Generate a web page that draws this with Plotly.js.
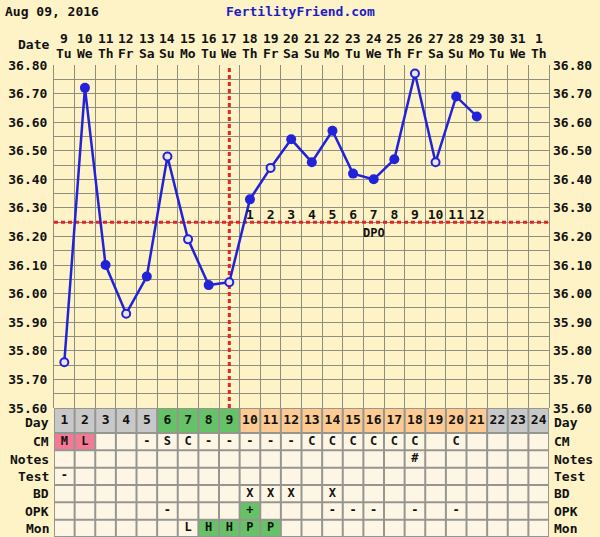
<!DOCTYPE html>
<html><head><meta charset="utf-8">
<script src="https://cdn.plot.ly/plotly-3.0.1.min.js"></script>
<style>html,body{margin:0;padding:0;background:#fdf3c6;overflow:hidden}</style>
</head><body>
<div id="chart" style="width:600px;height:537px"></div>
<script>
// ---------------- data ----------------
const cycleDays = [1,2,3,4,5,6,7,8,9,10,11,12,13,14,15,16,17,18,19,20,21,22,23,24];
const dateLabels = ['9','10','11','12','13','14','15','16','17','18','19','20','21','22','23','24','25','26','27','28','29','30','31','1'];
const weekdayLabels = ['Tu','We','Th','Fr','Sa','Su','Mo','Tu','We','Th','Fr','Sa','Su','Mo','Tu','We','Th','Fr','Sa','Su','Mo','Tu','We','Th'];
const tempDays = [1,2,3,4,5,6,7,8,9,10,11,12,13,14,15,16,17,18,19,20,21];
const temps = [35.76,36.72,36.10,35.93,36.06,36.48,36.19,36.03,36.04,36.33,36.44,36.54,36.46,36.57,36.42,36.40,36.47,36.77,36.46,36.69,36.62];
const openPoint = [true,false,false,true,false,true,true,false,true,false,true,false,false,false,false,false,false,true,true,false,false];
const coverline = 36.25;
const ovulationDay = 9;
const tempTicks = [35.6,35.7,35.8,35.9,36.0,36.1,36.2,36.3,36.4,36.5,36.6,36.7,36.8];
const tempTickText = ['35.60','35.70','35.80','35.90','36.00','36.10','36.20','36.30','36.40','36.50','36.60','36.70','36.80'];
const dayPhase = ['n','n','n','n','n','f','f','f','f','l','l','l','l','l','l','l','l','l','l','l','l','n','n','n'];
const cmVals    = ['M','L','','','-','S','C','-','-','-','-','-','C','C','C','C','C','C','','C','','','',''];
const notesVals = ['','','','','','','','','','','','','','','','','','#','','','','','',''];
const testVals  = ['-','','','','','','','','','','','','','','','','','','','','','','',''];
const bdVals    = ['','','','','','','','','','X','X','X','','X','','','','','','','','','',''];
const opkVals   = ['','','','','','-','','','','+','','','','-','-','-','','-','','-','','','',''];
const monVals   = ['','','','','','','L','H','H','P','P','','','','','','','','','','','','',''];

// ---------------- style ----------------
const BG = '#fdf3c6', CREAM = '#fdf6e4', GRID = '#8e8e80', TBL = '#969690';
const PINK = '#f37a95', GREEN = '#66c266', ORANGE = '#fdca92', GRAY = '#c8c8c8';
const BLUE = '#2222d8', RED = '#e02626';
const FONT = 'DejaVu Sans Mono';
const L = 54, R = 549, T = 65, B = 537;
const py2paper = py => (B - py) / (B - T);
const px2paper = px => (px - L) / (R - L);
const tempBottom = py2paper(408);
const rowPx = 104 / 6;
const dayRowTop = 6 + 25 / rowPx;

const phaseColor = {n: GRAY, f: GREEN, l: ORANGE};
const tableRows = [
  {label: 'CM', vals: cmVals, k: 5, fill: v => (v === 'M' || v === 'L') ? PINK : null},
  {label: 'Notes', vals: notesVals, k: 4, fill: () => null},
  {label: 'Test', vals: testVals, k: 3, fill: () => null},
  {label: 'BD', vals: bdVals, k: 2, fill: () => null},
  {label: 'OPK', vals: opkVals, k: 1, fill: v => v === '+' ? GREEN : null},
  {label: 'Mon', vals: monVals, k: 0, fill: v => (v === 'H' || v === 'P' || v === 'F') ? GREEN : null}
];

// ---------------- traces ----------------
const traces = [];
traces.push({x: tempDays, y: temps, mode: 'lines', line: {color: BLUE, width: 2.5}, hoverinfo: 'skip'});
traces.push({
  x: tempDays, y: temps, mode: 'markers', hoverinfo: 'skip',
  marker: {
    opacity: 1,
    size: openPoint.map(o => o ? 8 : 10),
    color: openPoint.map(o => o ? '#ece6ee' : BLUE),
    line: {color: BLUE, width: openPoint.map(o => o ? 2 : 0)}
  }
});
// DPO labels
const dpoDays = tempDays.filter(d => d > ovulationDay);
traces.push({
  x: dpoDays, y: dpoDays.map(() => coverline), mode: 'text',
  text: dpoDays.map(d => String(d - ovulationDay)), textposition: 'top center',
  textfont: {family: FONT, size: 13, color: '#111', weight: 'bold'}, hoverinfo: 'skip', cliponaxis: false
});
// right axis dummy
traces.push({x: [1], y: [36], yaxis: 'y3', mode: 'markers', marker: {opacity: 0}, hoverinfo: 'skip'});
// Day row numbers
traces.push({
  x: cycleDays, y: cycleDays.map(() => (6 + dayRowTop) / 2), yaxis: 'y2', mode: 'text',
  text: cycleDays.map(String), textfont: {family: FONT, size: 13, color: '#111', weight: 'bold'}, hoverinfo: 'skip'
});
// table rows text
tableRows.forEach(r => {
  traces.push({
    x: cycleDays, y: cycleDays.map(() => r.k + 0.5), yaxis: 'y2', mode: 'text',
    text: r.vals, textfont: {family: FONT, size: 12, color: '#111', weight: 'bold'}, hoverinfo: 'skip'
  });
});

// ---------------- shapes ----------------
const shapes = [];
shapes.push({type: 'rect', xref: 'x', yref: 'y2', x0: 0.5, x1: 24.5, y0: 0, y1: 6, fillcolor: CREAM, line: {width: 0}, layer: 'below'});
cycleDays.forEach((d, i) => {
  shapes.push({type: 'rect', xref: 'x', yref: 'y2', x0: d - 0.5, x1: d + 0.5, y0: 6, y1: dayRowTop,
    fillcolor: phaseColor[dayPhase[i]], line: {width: 0}, layer: 'below'});
  tableRows.forEach(r => {
    const c = r.fill(r.vals[i]);
    if (c) shapes.push({type: 'rect', xref: 'x', yref: 'y2', x0: d - 0.5, x1: d + 0.5, y0: r.k, y1: r.k + 1,
      fillcolor: c, line: {width: 0}, layer: 'below'});
  });
});
for (let i = 0; i <= 24; i++) {
  shapes.push({type: 'line', xref: 'x', yref: 'y2', x0: i + 0.5, x1: i + 0.5, y0: 0, y1: dayRowTop, line: {color: TBL, width: 2}});
}
[0,1,2,3,4,5,6,dayRowTop].forEach(v => {
  shapes.push({type: 'line', xref: 'x', yref: 'y2', x0: 0.5, x1: 24.5, y0: v, y1: v, line: {color: TBL, width: 2}});
});
// coverline & ovulation line
shapes.push({type: 'line', xref: 'x', yref: 'y', x0: 0.5, x1: 24.5, y0: coverline, y1: coverline,
  line: {color: RED, width: 3, dash: '4px,3px'}, layer: 'between'});
shapes.push({type: 'line', xref: 'x', yref: 'y', x0: ovulationDay, x1: ovulationDay, y0: 35.6, y1: 36.8,
  line: {color: RED, width: 3, dash: '4px,3px'}, layer: 'between'});

// ---------------- annotations ----------------
const ann = [];
const txt = (text, x, y, opts) => Object.assign({text, x, y, showarrow: false, yanchor: 'middle', xanchor: 'center',
  font: {family: FONT, size: 13, color: '#111', weight: 'bold'}}, opts);
ann.push(txt('Aug 09, 2016', px2paper(3), py2paper(12), {xref: 'paper', yref: 'paper', xanchor: 'left'}));
ann.push(txt('FertilityFriend.com', px2paper(300), py2paper(12), {xref: 'paper', yref: 'paper',
  font: {family: FONT, size: 13, color: '#1c1cc8', weight: 'bold'}}));
ann.push(txt('Date', px2paper(51), py2paper(45), {xref: 'paper', yref: 'paper', xanchor: 'right'}));
cycleDays.forEach((d, i) => {
  ann.push(txt(dateLabels[i], d, py2paper(38), {xref: 'x', yref: 'paper'}));
  ann.push(txt(weekdayLabels[i], d, py2paper(53), {xref: 'x', yref: 'paper'}));
});
ann.push(txt('DPO', 16, coverline, {xref: 'x', yref: 'y', yanchor: 'top', yshift: -2,
  font: {family: FONT, size: 12, color: '#111', weight: 'bold'}}));
const rowLabels = [{label: 'Day', y: (6 + dayRowTop) / 2 - 0.1}].concat(tableRows.map(r => ({label: r.label, y: r.k + 0.5})));
rowLabels.forEach(r => {
  ann.push(txt(r.label, 0, r.y, {xref: 'paper', yref: 'y2', xanchor: 'right', xshift: -3}));
  ann.push(txt(r.label, 1, r.y, {xref: 'paper', yref: 'y2', xanchor: 'left', xshift: 3}));
});

// ---------------- layout ----------------
const yTick = {family: FONT, size: 13, color: '#111', weight: 'bold'};
const halfTicks = tempTicks.slice(0, -1).map(v => v + 0.05);
const layout = {
  width: 600, height: 537,
  margin: {l: L, r: 600 - R, t: T, b: 0, pad: 0},
  paper_bgcolor: BG, plot_bgcolor: BG,
  showlegend: false, hovermode: false,
  xaxis: {range: [0.5, 24.5], tickmode: 'array', tickvals: [0.5].concat(cycleDays.map(d => d + 0.5)),
    showticklabels: false, ticks: '', showgrid: true, gridcolor: GRID, gridwidth: 1, zeroline: false,
    showline: false, fixedrange: true},
  yaxis: {domain: [tempBottom, 1], range: [35.6, 36.8], tickmode: 'array', tickvals: tempTicks, ticktext: tempTickText,
    tickfont: yTick, ticks: '', showgrid: true, gridcolor: GRID, gridwidth: 1, zeroline: false,
    showline: true, linecolor: GRID, linewidth: 1, mirror: true, ticklabelstandoff: 3,
    minor: {tickmode: 'array', tickvals: halfTicks, showgrid: true, gridcolor: GRID, gridwidth: 1, ticks: ''}},
  yaxis3: {overlaying: 'y', side: 'right', range: [35.6, 36.8], tickmode: 'array', tickvals: tempTicks, ticktext: tempTickText,
    tickfont: yTick, ticks: '', showgrid: false, zeroline: false, showline: false, ticklabelstandoff: 3},
  yaxis2: {domain: [0, tempBottom], range: [0, dayRowTop], showticklabels: false, ticks: '', showgrid: false,
    zeroline: false, showline: false, fixedrange: true},
  shapes: shapes,
  annotations: ann
};
Plotly.newPlot('chart', traces, layout, {staticPlot: true, displayModeBar: false});
</script>
</body></html>
